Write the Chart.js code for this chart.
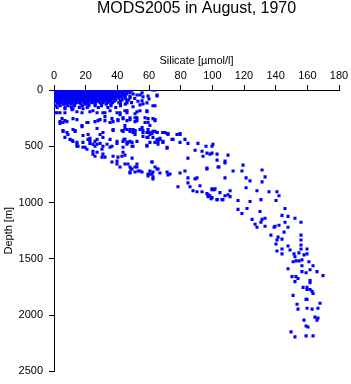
<!DOCTYPE html>
<html>
<head>
<meta charset="utf-8">
<script src="https://cdn.jsdelivr.net/npm/chart.js@4.4.1/dist/chart.umd.min.js"></script>
<style>
  body { margin: 0; background: #fff; }
</style>
</head>
<body>
<canvas id="scatter" width="351" height="384"></canvas>
<script>
const titulo = 'MODS2005 in August, 1970';
const xLabel = 'Silicate [\u00b5mol/l]';
const yLabel = 'Depth [m]';
const xMin = 0, xMax = 180, xStep = 20;
const yMin = 0, yMax = 2500, yStep = 500;

/* camada superficial: [profundidade, [silicato...]] */
const surfaceRows = [
  [0,   [0.5, 2, 4, 6, 7.5, 9, 11, 13, 14.5, 16, 18, 19.5, 21, 23, 24.5, 26, 28, 29.5, 31, 33, 34.5, 36, 38, 40, 42, 44]],
  [8,   [1, 3, 5, 7, 9, 10.5, 12, 14, 15.5, 17, 19, 21, 22.5, 24, 26, 27.5, 29, 31, 32.5, 34, 36, 37.5, 39, 41, 43, 46, 49]],
  [16,  [0.5, 2.5, 4.5, 6, 8, 10, 11.5, 13, 15, 17, 18.5, 20, 22, 24, 25.5, 27, 29, 30.5, 32, 34, 35.5, 37, 39, 41, 44, 47]],
  [25,  [1.5, 3.5, 5.5, 7, 9, 11, 12.5, 14, 16, 18, 19.5, 21, 23, 25, 26.5, 28, 30, 31.5, 33, 35, 37, 38.5, 40, 42, 45, 48]],
  [35,  [0.5, 2.5, 4.5, 6.5, 8, 10, 12, 13.5, 15, 17, 19, 20.5, 22, 24, 26, 27.5, 29, 31, 33, 34.5, 36, 38, 40, 43, 46, 50]],
  [45,  [1.5, 3.5, 5.5, 7.5, 9, 11, 13, 14.5, 16, 18, 20, 21.5, 23, 25, 27, 28.5, 30, 32, 34, 35.5, 37, 39, 41, 44]],
  [55,  [1, 3, 5, 6.5, 8.5, 10, 12, 14, 15.5, 17, 19, 21, 22.5, 24, 26, 28, 29.5, 31, 33, 35, 36.5, 38, 40, 42, 45, 48]],
  [65,  [2, 4, 6, 8, 9.5, 11, 13, 15, 16.5, 18, 20, 22, 23.5, 25, 27, 29, 30.5, 32, 34, 36, 37.5, 39, 43]],
  [75,  [1, 3, 5, 7, 8.5, 10, 12, 14, 15.5, 17, 19, 21, 22.5, 24, 26, 28, 29.5, 31, 33, 35, 36.5, 38, 41, 45, 51]],
  [88,  [2, 4, 6, 8, 10, 11.5, 13, 15, 17, 18.5, 20, 22, 24, 25.5, 27, 29, 31, 32.5, 34, 36, 39, 43, 47]],
  [100, [1, 3, 5, 7, 9, 11, 12.5, 14, 16, 18, 19.5, 21, 23, 25, 26.5, 28, 30, 32, 35, 38, 42, 46, 53]],
  [112, [2, 4, 7, 9, 11, 14, 16, 19, 21, 24, 26, 29, 31, 34, 37, 41, 49]],
  [125, [3, 6, 8, 11, 13, 17, 20, 22, 26, 30, 33, 36, 42, 45]],
  [140, [1, 4, 9, 13, 18, 22, 26, 30, 36, 42]],
  [155, [2, 7, 11, 16, 21, 28, 34, 39]]
];

/* camada intermediaria: [silicato, profundidade] */
const midPts = [
  [55.6, 26], [59.4, 53], [60, 79], [62.5, 0], [65.1, 53], [55.6, 96], [56.2, 123],
  [58.7, 184], [62.5, 140], [54.3, 184], [51.2, 211], [48, 246], [46.1, 184], [43.6, 254],
  [52.4, 272], [51.2, 246], [57.5, 289], [59.4, 254], [62.5, 254], [63.8, 272], [60.6, 316],
  [59.4, 377], [55.6, 333], [51.2, 360], [48, 351], [44.8, 342], [49.9, 377], [65.1, 377],
  [70.1, 377], [71.4, 386], [79.6, 386], [61.9, 386],
  [54.3, 44], [56.2, 61], [63.8, 0], [65.1, 44], [58.7, 114], [63.8, 140], [54.3, 132],
  [49.9, 149], [46.1, 114], [48, 70], [52.4, 44],
  [6.9, 167], [12, 167], [18.3, 167], [24.6, 184], [30.9, 202], [35.4, 184], [39.8, 202],
  [44.8, 184], [0.6, 202], [5.1, 254], [6.9, 272], [12, 254], [17.7, 316], [21.5, 289],
  [27.8, 272], [32.2, 272], [36.6, 254], [40.4, 272], [46.1, 272], [5.7, 360], [8.2, 377],
  [13.3, 360], [18.3, 404], [22.7, 430], [27.2, 342], [30.9, 421], [37.3, 360], [42.9, 360],
  [44.8, 316], [14.5, 465], [22.7, 474],
  [1.9, 202], [3.8, 202], [6.9, 202], [11.4, 175], [14.5, 193], [17.7, 202], [22.7, 193],
  [27.2, 202], [32.2, 202], [41.7, 202], [46.1, 202], [52.4, 193], [58.7, 193],
  [3.8, 281], [5.7, 289], [3.8, 298], [8.2, 281], [14.5, 263], [20.8, 289], [25.9, 281],
  [29.1, 263], [35.4, 289], [37.3, 281], [40.4, 263], [41.7, 219], [32.2, 237], [43.6, 246],
  [48, 263], [51.2, 281], [52.4, 246], [57.5, 246], [59.4, 289], [63.8, 263],
  [5.7, 368], [8.8, 395], [12, 351], [13.3, 368], [17.7, 325], [21.5, 395], [29.1, 395],
  [30.9, 377], [37.3, 351], [43.6, 368], [46.1, 351], [49.9, 351], [54.3, 351], [56.2, 377],
  [59.4, 351], [60.6, 377], [63.8, 368], [68.8, 377], [72, 395],
  [6.9, 421], [10.1, 439], [12, 456], [18.3, 465], [22.7, 456], [27.2, 439], [35.4, 439],
  [39.8, 456], [44.8, 439], [52.4, 456], [58.7, 421], [62.5, 421], [65.7, 456], [66.9, 439],
  [75.2, 439], [77.7, 395], [14.5, 500], [18.3, 509], [27.2, 482], [30.3, 526], [24.6, 544],
  [35.4, 509], [43.6, 509], [49.9, 500], [58.7, 500], [71.4, 509],
  [24.6, 570], [25.9, 588], [30.3, 596], [36.6, 640], [39.8, 632], [41.7, 684], [46.7, 658],
  [49.3, 702], [51.2, 684], [54.3, 719], [61.9, 640], [63.8, 684], [65.1, 702], [60.6, 746],
  [62.5, 772], [71.4, 728], [73.3, 746],
  [11.4, 447], [14.5, 482], [15.2, 500], [19.6, 509], [20.8, 526], [21.5, 439], [25.9, 456],
  [24.6, 482], [29.1, 474], [25.9, 500], [30.9, 500], [33.5, 482], [36.6, 500], [39.8, 474],
  [43.6, 456], [46.1, 465], [48, 456], [49.3, 500], [58.7, 491],
  [27.2, 553], [30.9, 570], [32.2, 596], [37.3, 588], [40.4, 596], [43.6, 553], [44.8, 579],
  [49.3, 605], [39.8, 658], [44.8, 658], [52.4, 658], [53.1, 719], [48.6, 702], [48, 737],
  [51.2, 728], [59.4, 746],
  [43.6, 360], [48, 368], [51.2, 368], [51.2, 395], [56.2, 360], [58.7, 377], [60.6, 395],
  [62.5, 368], [65.1, 377], [56.2, 412], [59.4, 421], [65.1, 439], [66.9, 430], [68.8, 456],
  [72, 386], [68.8, 377], [74.5, 439], [79.6, 395], [82.7, 439], [44.2, 439], [46.7, 465],
  [49.3, 465], [46.1, 482], [60.6, 465], [63.8, 465], [65.7, 482], [68.8, 465], [71.4, 518],
  [79.6, 465], [84.6, 474], [90.9, 474], [89.1, 535], [93.5, 544], [96, 500], [99.8, 500],
  [103, 570], [98.5, 570], [94.1, 588], [99.8, 561], [103, 623], [42.9, 588], [61.9, 640],
  [84.6, 605], [48, 684], [52.4, 684], [65.7, 702], [48, 728], [55.6, 728], [60.6, 719],
  [62.5, 728], [61.9, 746], [66.9, 737], [59.4, 763], [72, 754], [79.6, 737], [82.7, 719],
  [84.6, 781], [89.1, 790], [90.3, 781], [84.6, 825], [96.6, 702], [103.6, 684], [62.5, 790],
  [78.3, 860], [85.9, 860], [92.2, 851], [87.8, 895], [90.3, 904], [93.5, 904], [96.6, 921],
  [99.8, 877], [101.7, 877], [98.5, 939], [97.3, 947],
  [100.4, 482], [96.6, 561], [109.9, 579], [108, 632], [108, 649], [119.4, 667], [96.6, 693],
  [104.2, 684], [113.1, 719], [118.7, 719], [131.4, 711], [108, 781], [121.3, 781],
  [123.8, 807], [133.3, 772], [131.4, 816], [99.8, 886], [101.1, 886], [104.8, 912],
  [111.2, 895], [121.3, 868], [128.2, 895], [135.8, 904], [140.8, 904], [142.1, 939],
  [97.3, 930], [99.8, 956], [108, 939], [109.9, 930], [111.2, 947], [103, 974], [106.7, 974]
];

/* camada profunda: [silicato, profundidade] */
const deepPts = [
  [99.2, 965], [103, 974], [106.1, 974], [116.2, 982], [123.8, 991], [130.7, 974], [140.2, 982],
  [116.2, 1061], [121.9, 1053], [118.7, 1097], [130.1, 1079], [145.9, 1053], [125.1, 1149],
  [127, 1193], [130.7, 1175], [131.4, 1149], [133.3, 1140], [144, 1114], [147.8, 1123],
  [152.2, 1140], [156, 1175], [128.2, 1219], [133.3, 1211], [139, 1219], [142.1, 1202],
  [139.6, 1211], [145.9, 1175], [147.8, 1219], [145.3, 1263], [137, 1289], [141.5, 1307],
  [140.8, 1333], [144, 1325], [156, 1289], [156, 1333], [140.2, 1368], [156, 1377],
  [147.8, 1386], [149.1, 1421], [156, 1412], [159.8, 1412], [140.8, 1430], [144, 1412],
  [144, 1456], [151.6, 1456], [152.2, 1482], [154.7, 1447], [157.9, 1465], [159.8, 1456],
  [151, 1526], [152.8, 1518], [154.7, 1518], [156.6, 1509], [161, 1526], [156.6, 1561],
  [163.6, 1561], [147.8, 1588], [156.6, 1614], [159.2, 1623], [161.7, 1597], [166.1, 1614],
  [169.9, 1649], [150.3, 1658], [152.8, 1658], [154.1, 1675], [152.2, 1702], [161.7, 1693],
  [161.7, 1711], [157.3, 1754], [159.8, 1754], [159.8, 1772], [161.7, 1772], [163, 1789],
  [163.6, 1807], [151, 1825], [159.2, 1860], [159.8, 1860], [153.5, 1904], [168, 1895],
  [154.1, 1947], [159.8, 1939], [163, 1947], [166.7, 1939], [157.9, 2044], [164.8, 2018],
  [166.7, 2026], [166.1, 2044], [159.2, 2097], [160.4, 2105], [149.7, 2149], [152.2, 2193],
  [159.2, 2184], [163.6, 2184]
];

const pontos = [];
surfaceRows.forEach(([d, lista]) => lista.forEach(s => pontos.push({x: s, y: d})));
midPts.concat(deepPts).forEach(([s, d]) => pontos.push({x: s, y: d}));

const fonte = 'Liberation Sans, Arial, Helvetica, sans-serif';

/* titulo centrado sobre a area do grafico, nao sobre o canvas */
const tituloPlugin = {
  id: 'tituloPlot',
  afterDraw(chart) {
    const {ctx, chartArea} = chart;
    ctx.save();
    ctx.fillStyle = '#000';
    ctx.font = '16px ' + fonte;
    ctx.textAlign = 'center';
    ctx.textBaseline = 'middle';
    ctx.fillText(titulo, (chartArea.left + chartArea.right) / 2, 9);
    ctx.restore();
  }
};

new Chart(document.getElementById('scatter').getContext('2d'), {
  type: 'scatter',
  data: {
    datasets: [{
      data: pontos,
      pointStyle: 'rect',
      pointRadius: 2.2,
      pointBorderWidth: 0,
      pointBackgroundColor: '#0000ff',
      borderColor: '#0000ff'
    }]
  },
  options: {
    responsive: false,
    animation: false,
    layout: {padding: {left: 0, top: 19, right: 12, bottom: 9}},
    scales: {
      x: {
        position: 'top',
        min: xMin,
        max: xMax,
        afterFit: s => { s.height = 71; },
        ticks: {stepSize: xStep, color: '#000', padding: 2, font: {family: fonte, size: 11},
                callback: v => String(v)},
        grid: {drawOnChartArea: false, drawTicks: true, tickLength: 5, color: '#000'},
        border: {display: true, color: '#000', width: 1},
        title: {display: true, text: xLabel, color: '#000', padding: {top: 35, bottom: 0},
                font: {family: fonte, size: 11}}
      },
      y: {
        reverse: true,
        min: yMin,
        max: yMax,
        afterFit: s => { s.width = 54; },
        ticks: {stepSize: yStep, color: '#000', padding: 6, font: {family: fonte, size: 11},
                callback: v => String(v)},
        grid: {drawOnChartArea: false, drawTicks: true, tickLength: 5, color: '#000'},
        border: {display: true, color: '#000', width: 1},
        title: {display: true, text: yLabel, color: '#000', padding: {top: 2, bottom: 0},
                font: {family: fonte, size: 11}}
      }
    },
    plugins: {
      legend: {display: false},
      tooltip: {enabled: false},
      title: {display: false}
    }
  },
  plugins: [tituloPlugin]
});
</script>
</body>
</html>
